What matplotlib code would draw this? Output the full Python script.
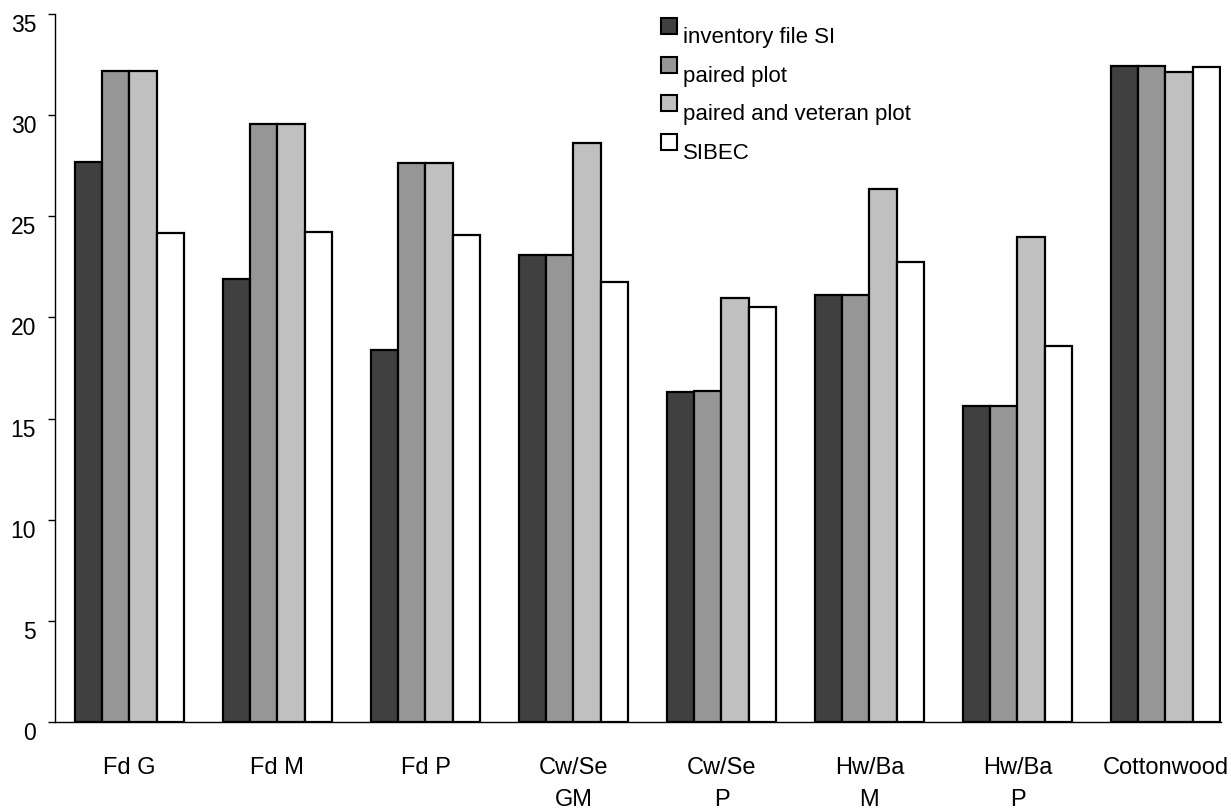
import numpy as np
import matplotlib
matplotlib.use("Agg")
from matplotlib import pyplot as plt
from matplotlib.patches import Rectangle

plt.rcParams['font.family'] = ['Liberation Sans', 'DejaVu Sans']

groups = ["Fd G", "Fd M", "Fd P", "Cw/Se\nGM", "Cw/Se\nP", "Hw/Ba\nM", "Hw/Ba\nP", "Cottonwood"]
series = ["inventory file SI", "paired plot", "paired and veteran plot", "SIBEC"]
inventory = [27.7, 21.88, 18.39, 23.08, 16.30, 21.09, 15.64, 32.43]
paired = [32.2, 29.56, 27.65, 23.08, 16.38, 21.09, 15.64, 32.43]
veteran = [32.2, 29.56, 27.65, 28.64, 20.97, 26.33, 23.99, 32.15]
sibec = [24.17, 24.24, 24.07, 21.77, 20.50, 22.75, 18.60, 32.40]
colors = ["#404040", "#969696", "#c0c0c0", "#ffffff"]
yticks = [0, 5, 10, 15, 20, 25, 30, 35]

W, H = 1231, 808
fig = plt.figure(figsize=(W/100, H/100), dpi=100)
ax = fig.add_axes([55/W, 86/H, 1166/W, 708/H])

x = np.arange(len(groups))
bw = 0.184
data = [inventory, paired, veteran, sibec]
for k, vals in enumerate(data):
    ax.bar(x + (k - 1.5)*bw, vals, bw, color=colors[k], edgecolor="black", linewidth=1.6, zorder=2)

ax.set_xlim(-0.503, 7.375)
ax.set_ylim(0, 35)
ax.set_yticks(yticks)
ax.set_xticks(x)
ax.set_xticklabels(groups, fontsize=17, linespacing=1.6)
ax.tick_params(axis='x', length=0, pad=25)
ax.tick_params(axis='y', length=5, width=1, pad=8.5, labelsize=16.5)
for lab in ax.get_yticklabels():
    lab.set_va('top')
for s in ['top', 'right']:
    ax.spines[s].set_visible(False)
ax.spines['left'].set_linewidth(1)
ax.spines['bottom'].set_linewidth(1)

# legend drawn by hand
for k, name in enumerate(series):
    top = 18 + k*38.7
    fig.patches.append(Rectangle((661/W, 1 - (top + 16)/H), 16/W, 16/H, transform=fig.transFigure,
                                 facecolor=colors[k], edgecolor="black", linewidth=1.5))
    fig.text(683/W, 1 - (top + 25)/H, name, fontsize=16, va='baseline', ha='left')

fig.savefig("out.png", dpi=100)
